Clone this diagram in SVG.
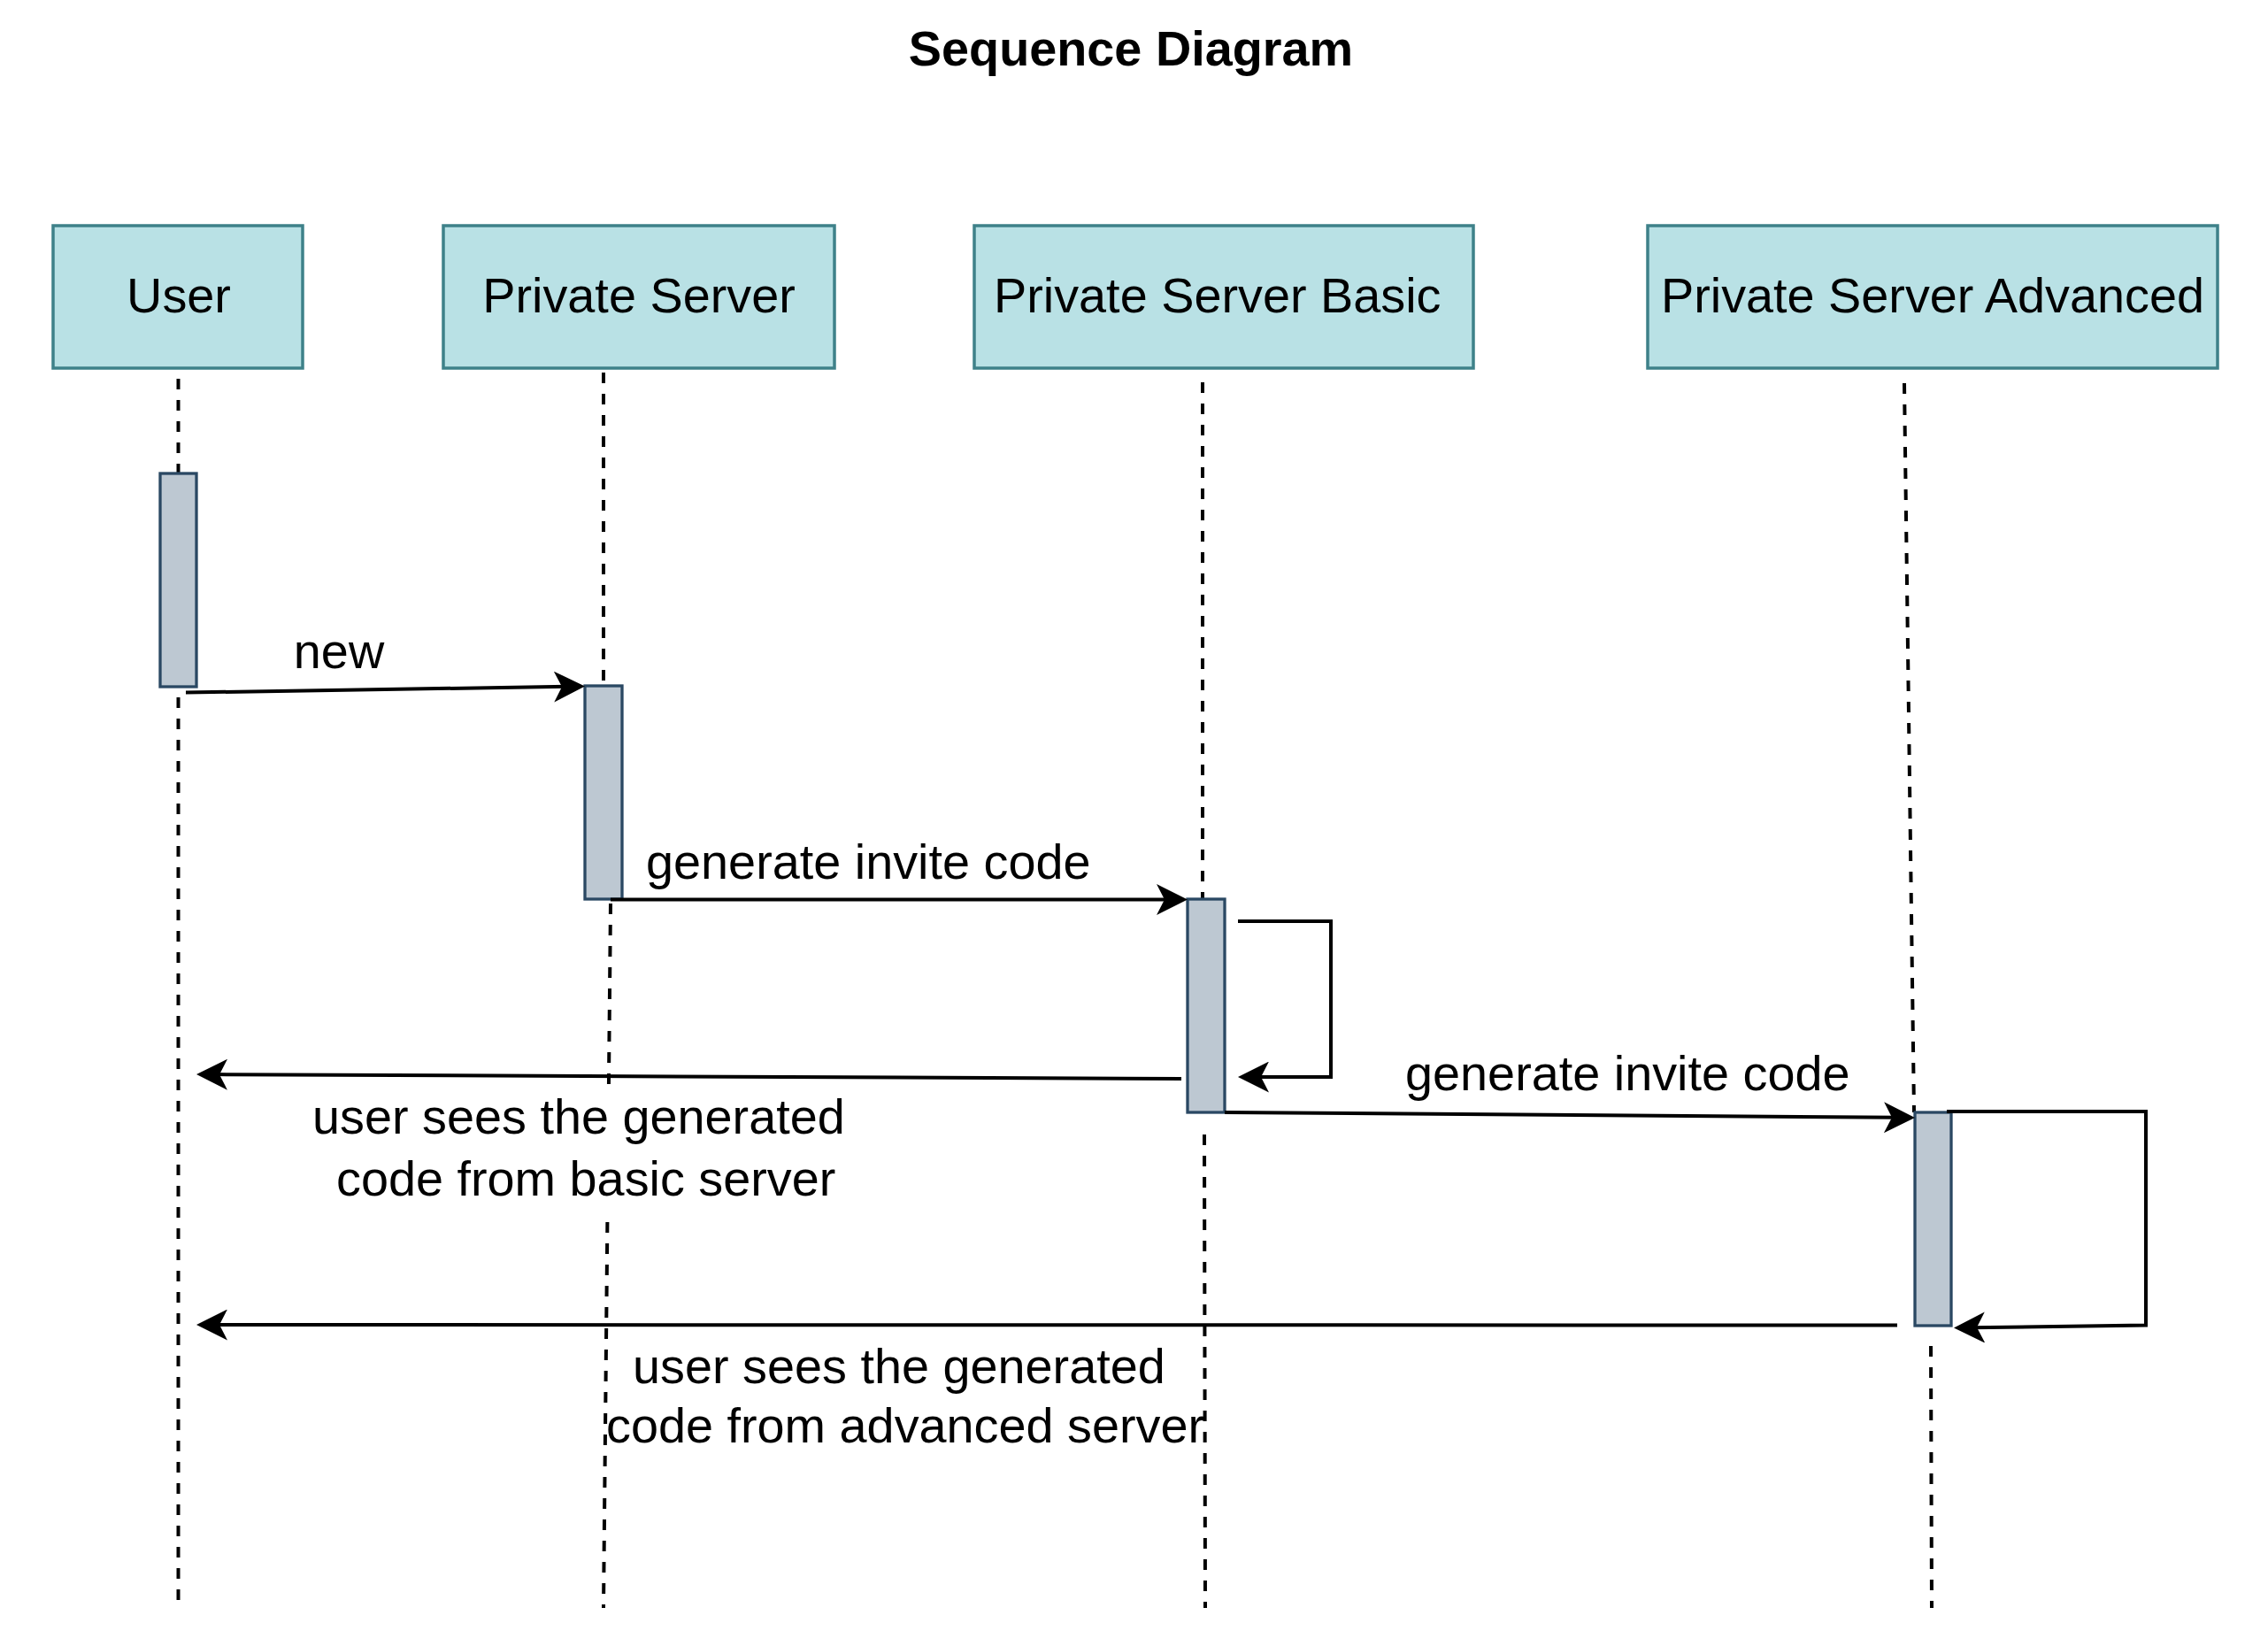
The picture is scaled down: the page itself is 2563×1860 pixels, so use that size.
<svg xmlns="http://www.w3.org/2000/svg" width="2563" height="1860" viewBox="0 0 2563 1860">
<style>
  text { font-family: "Liberation Sans", Arial, sans-serif; font-size: 55.8px; fill: #000; }
  .title { font-weight: bold; text-anchor: middle; }
  .mid { text-anchor: middle; }
  .head { fill: #b9e1e5; stroke: #3e8189; stroke-width: 3.5; }
  .act { fill: #bdc8d2; stroke: #2a4863; stroke-width: 3.3; }
  .life { fill: none; stroke: #000; stroke-width: 4; stroke-dasharray: 12 12; }
  .msg { fill: none; stroke: #000; stroke-width: 4; marker-end: url(#arrow); }
</style>
<defs>
  <marker id="arrow" viewBox="0 0 35 35" markerWidth="35" markerHeight="35" markerUnits="userSpaceOnUse" refX="15" refY="17.5" orient="auto">
    <path d="M35,17.5 L0,0 L9,17.5 L0,35 Z" fill="#000"/>
  </marker>
</defs>
<rect width="2563" height="1860" fill="#fff"/>

<text class="title" x="1278" y="74">Sequence Diagram</text>

<g id="lifelines">
  <line class="life" x1="201.5" y1="428" x2="201.5" y2="1817"/>
  <line class="life" x1="682" y1="421" x2="682" y2="775"/>
  <line class="life" x1="690" y1="1021" x2="682" y2="1817"/>
  <line class="life" x1="1359" y1="432" x2="1359" y2="1016"/>
  <line class="life" x1="1361" y1="1282" x2="1362" y2="1817"/>
  <line class="life" x1="2152" y1="433" x2="2163" y2="1257"/>
  <line class="life" x1="2182" y1="1521" x2="2183" y2="1817"/>
</g>

<g id="user">
  <rect class="head" x="60" y="255" width="282" height="161"/>
  <text class="mid" x="202" y="353">User</text>
</g>
<g id="private-server">
  <rect class="head" x="501" y="255" width="442" height="161"/>
  <text class="mid" x="722" y="353">Private Server</text>
</g>
<g id="private-server-basic">
  <rect class="head" x="1101" y="255" width="564" height="161"/>
  <text x="1123" y="353">Private Server Basic</text>
</g>
<g id="private-server-advanced">
  <rect class="head" x="1862" y="255" width="644" height="161"/>
  <text class="mid" x="2184" y="353">Private Server Advanced</text>
</g>

<g id="activations">
  <rect id="act-user" class="act" x="181" y="535" width="41" height="241"/>
  <rect id="act-ps" class="act" x="661" y="775" width="42" height="241"/>
  <rect id="act-basic" class="act" x="1342" y="1016" width="42" height="241"/>
  <rect id="act-adv" class="act" x="2164" y="1257" width="41" height="241"/>
</g>

<g id="connectors">
  <path class="msg" d="M210,782.6 L641,775.8"/>
  <path class="msg" d="M690,1016.5 L1322,1016.5"/>
  <path class="msg" d="M1399,1041 H1504 V1217 H1419"/>
  <path class="msg" d="M1335,1219 L242,1214.1"/>
  <path class="msg" d="M1384,1257 L2144,1262.85"/>
  <path class="msg" d="M2200,1256 H2425 V1497.5 L2228,1500.2"/>
  <path class="msg" d="M2144,1497.5 L242,1497"/>
</g>

<g id="labels">
  <text class="mid" x="383" y="755">new</text>
  <text x="730" y="993">generate invite code</text>
  <rect x="350" y="1232" width="608" height="142" fill="#fff"/>
  <text x="353" y="1281">user sees the generated</text>
  <text x="380" y="1351">code from basic server</text>
  <text x="1588" y="1232">generate invite code</text>
  <text x="715" y="1563">user sees the generated</text>
  <text x="685" y="1630">code from advanced server</text>
</g>
</svg>
